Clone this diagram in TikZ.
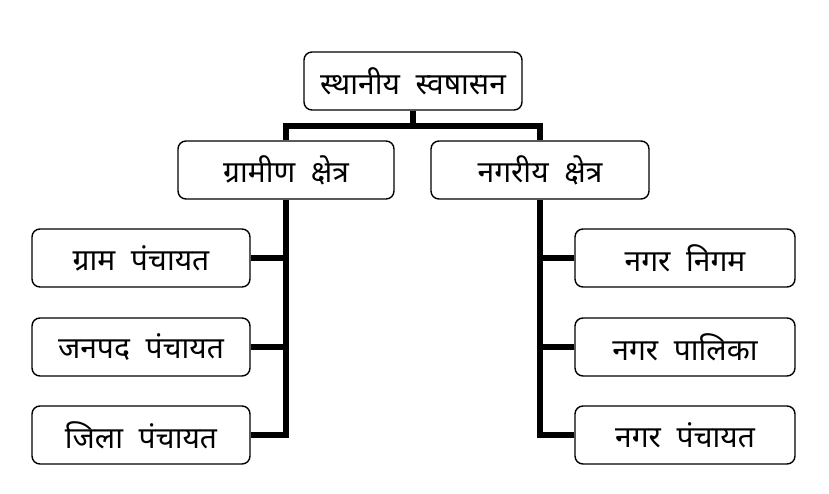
\documentclass[tikz,border=0pt]{standalone}
\usepackage{fontspec}
\newfontfamily\hindifont[Script=Devanagari,WordSpace=2]{Noto Sans}
\usepackage{tikz}
\tikzstyle{BoxNode}=[draw=black,rounded corners=8pt,line width=1.4pt,minimum height=58pt,
inner sep=2pt,font=\hindifont\fontsize{30}{34}\selectfont]
\tikzstyle{EdgeTree}=[black,line width=6.5pt,line join=miter]
\begin{document}
\begin{tikzpicture}[x=1pt,y=-1pt]
        \useasboundingbox (0,0) rectangle (829,493);
        \node[BoxNode,minimum width=218pt](top)at(413,81){स्थानीय स्वषासन};
        \node[BoxNode,minimum width=216pt](gramin)at(286,170){ग्रामीण क्षेत्र};
        \node[BoxNode,minimum width=218pt](nagariy)at(540,170){नगरीय क्षेत्र};
        \node[BoxNode,minimum width=218pt](gp)at(141,258){ग्राम पंचायत};
        \node[BoxNode,minimum width=218pt](jp)at(141,347){जनपद पंचायत};
        \node[BoxNode,minimum width=218pt](zp)at(141,435){जिला पंचायत};
        \node[BoxNode,minimum width=220pt](nn)at(685,258){नगर निगम};
        \node[BoxNode,minimum width=220pt](np)at(685,347){नगर पालिका};
        \node[BoxNode,minimum width=220pt](nagp)at(685,435){नगर पंचायत};
        \coordinate(bar)at(413,126);
        \draw[EdgeTree](top.south)--(bar);
        \draw[EdgeTree](gramin.north)|-(bar);
        \draw[EdgeTree](nagariy.north)|-(bar);
        \draw[EdgeTree](gramin.south)|-(zp.east);
        \draw[EdgeTree](gp.east)--(gp.east-|gramin.south);
        \draw[EdgeTree](jp.east)--(jp.east-|gramin.south);
        \draw[EdgeTree](nagariy.south)|-(nagp.west);
        \draw[EdgeTree](nn.west)--(nn.west-|nagariy.south);
        \draw[EdgeTree](np.west)--(np.west-|nagariy.south);
    \end{tikzpicture}
\end{document}
